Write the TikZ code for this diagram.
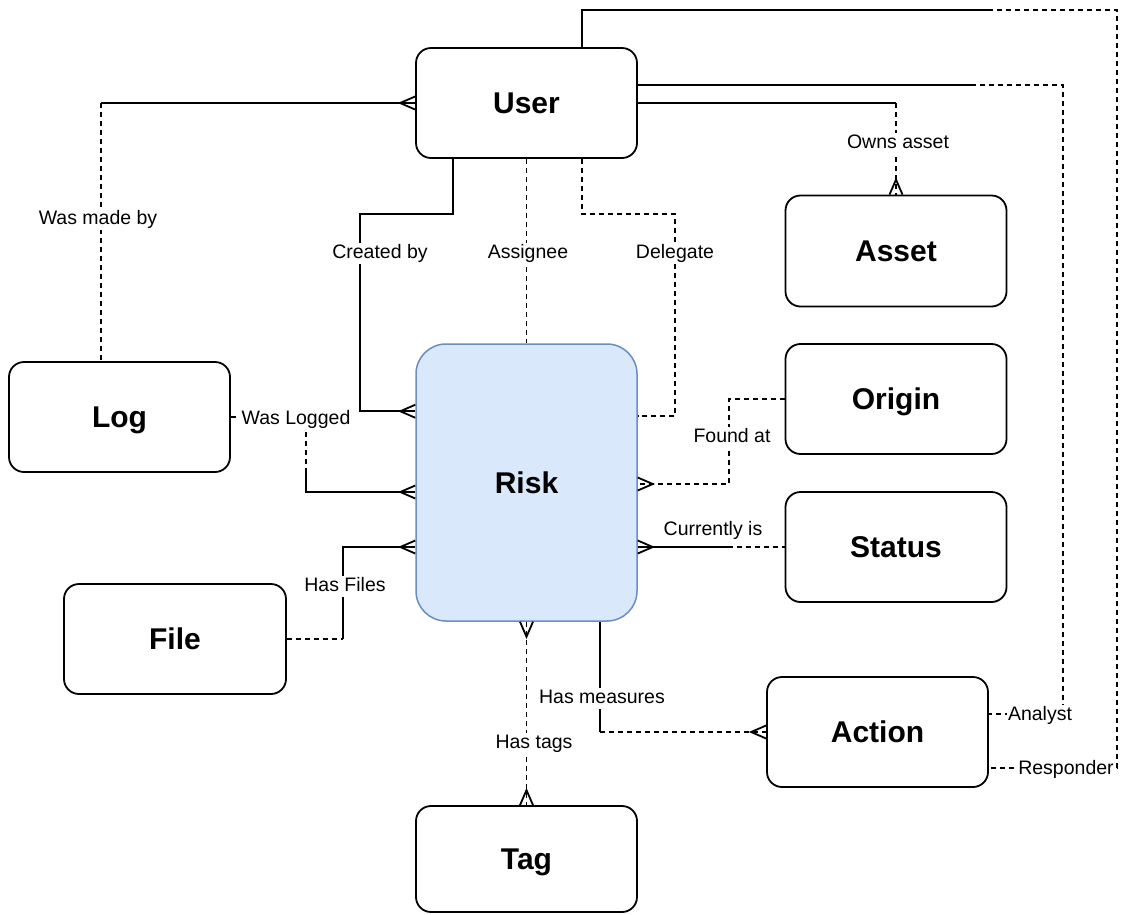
\documentclass[tikz,border=0pt]{standalone}
\usepackage{fontspec}
\setmainfont{Liberation Sans}
\usetikzlibrary{calc}
\definecolor{riskfill}{HTML}{DAE8FC}
\definecolor{riskline}{HTML}{6C8EBF}
% crow's-foot ("many") ends; the argument is the point on the entity border
\newcommand{\crowL}[1]{\draw[rel] ($(#1)+(0,-6.5)$) -- ($(#1)+(-15,0)$) -- ($(#1)+(0,6.5)$);}
\newcommand{\crowR}[1]{\draw[rel] ($(#1)+(0,-6.5)$) -- ($(#1)+(15,0)$) -- ($(#1)+(0,6.5)$);}
\newcommand{\crowT}[1]{\draw[rel] ($(#1)+(-6.5,0)$) -- ($(#1)+(0,-15)$) -- ($(#1)+(6.5,0)$);}
\newcommand{\crowB}[1]{\draw[rel] ($(#1)+(-6.5,0)$) -- ($(#1)+(0,15)$) -- ($(#1)+(6.5,0)$);}
\begin{document}
\begin{tikzpicture}[x=1pt,y=-1pt,
  entity/.style={draw=black, line width=1.8pt, rounded corners=15pt, fill=white,
    minimum width=221pt, minimum height=110pt, inner sep=0pt,
    text height=21.5pt, text depth=0pt, font=\fontsize{30}{34}\selectfont\bfseries},
  riskbox/.style={entity, fill=riskfill, draw=riskline, line width=1.5pt, rounded corners=30pt},
  rel/.style={line width=1.8pt, line join=miter},
  dsh/.style={dash pattern=on 5pt off 4pt},
  lbl/.style={font=\fontsize{19.5}{22}\selectfont, fill=white, inner sep=1.5pt,
    text height=14pt, text depth=4pt}]
\useasboundingbox (0,0) rectangle (1122,914);

% entities
\node[entity] (user) at (526.5,103) {User};
\node[entity, minimum height=111pt] (asset) at (896,251) {Asset};
\node[entity] (log) at (119.5,417) {Log};
\node[riskbox, minimum height=277pt] (risk) at (526.5,482.5) {Risk};
\node[entity] (origin) at (896,399) {Origin};
\node[entity] (status) at (896,547) {Status};
\node[entity, minimum width=222pt] (file) at (175,639) {File};
\node[entity] (action) at (877.5,732) {Action};
\node[entity, minimum height=106pt] (tag) at (526.5,859) {Tag};

% Log -- User
\coordinate (wmc) at ($(log.north)+(-18.5,0)$);
\draw[rel] (user.west) -- (wmc |- user.west);
\draw[rel,dsh] (wmc |- user.west) -- (wmc);
\crowL{user.west}

% Risk -- User (creator)
\coordinate (cbs) at ($(user.south)+(-73.5,0)$);
\coordinate (cbe) at ($(risk.north west)+(0,68)$);
\draw[rel] (cbs) |- ++(-93,55) |- (cbe);
\crowL{cbe}

% Risk -- User (assignee)
\draw[rel,dsh] (user.south) -- (risk.north);

% Risk -- User (delegate)
\coordinate (dgs) at ($(user.south)+(55.5,0)$);
\coordinate (dge) at ($(risk.north east)+(0,73)$);
\draw[rel,dsh] (dgs) |- ++(93,55) |- (dge);

% User -- Asset
\draw[rel] (user.east) -- (asset.north |- user.east);
\draw[rel,dsh] (asset.north |- user.east) -- (asset.north);
\crowT{asset.north}

% User -- Action (analyst)
\coordinate (ans) at ($(user.east)+(0,-18)$);
\coordinate (ane) at ($(action.east)+(0,-18)$);
\coordinate (anm) at ($(ans)+(333,0)$);
\draw[rel] (ans) -- (anm);
\draw[rel,dsh] (anm) -- ++(92,0) |- (ane);

% User -- Action (responder)
\coordinate (rss) at ($(user.north)+(55.5,0)$);
\coordinate (rse) at ($(action.east)+(0,36)$);
\coordinate (rsm) at ($(rss)+(406,-37)$);
\draw[rel] (rss) |- (rsm);
\draw[rel,dsh] (rsm) -- ++(129,0) |- (rse);

% Log -- Risk
\coordinate (wle) at ($(risk.west)+(0,9.5)$);
\coordinate (wlm) at ($(log.east)+(75,55)$);
\draw[rel,dsh] (log.east) -| (wlm);
\draw[rel] (wlm) |- (wle);
\crowL{wle}

% File -- Risk
\coordinate (hfe) at ($(risk.west)+(0,64.5)$);
\coordinate (hfm) at ($(file.east)+(56,0)$);
\draw[rel,dsh] (file.east) -- (hfm);
\draw[rel] (hfm) |- (hfe);
\crowL{hfe}

% Origin -- Risk
\coordinate (fae) at ($(risk.east)+(0,1.5)$);
\draw[rel,dsh] (origin.west) -- ++(-56,0) |- (fae);
\crowR{fae}

% Status -- Risk
\coordinate (cie) at ($(risk.east)+(0,64.5)$);
\coordinate (cim) at ($(status.west)+(-57,0)$);
\draw[rel] (cie) -- (cim);
\draw[rel,dsh] (cim) -- (status.west);
\crowR{cie}

% Risk -- Action
\coordinate (hms) at ($(risk.south)+(73.5,0)$);
\coordinate (hmm) at (hms |- action.west);
\draw[rel] (hms) -- (hmm);
\draw[rel,dsh] (hmm) -- (action.west);
\crowL{action.west}

% Risk -- Tag
\draw[rel,dsh] (risk.south) -- (tag.north);
\crowB{risk.south}
\crowT{tag.north}

% relation labels
\node[lbl] at (98,219) {Was made by};
\node[lbl] at (380,253) {Created by};
\node[lbl] at (528,253) {Assignee};
\node[lbl] at (675,253) {Delegate};
\node[lbl] at (898,143) {Owns asset};
\node[lbl] at (1040,715) {Analyst};
\node[lbl] at (1066,769) {Responder};
\node[lbl] at (296,419) {Was Logged};
\node[lbl] at (345,586) {Has Files};
\node[lbl] at (732,437) {Found at};
\node[lbl] at (713,530) {Currently is};
\node[lbl] at (602,698) {Has measures};
\node[lbl] at (534,743) {Has tags};
\end{tikzpicture}
\end{document}
